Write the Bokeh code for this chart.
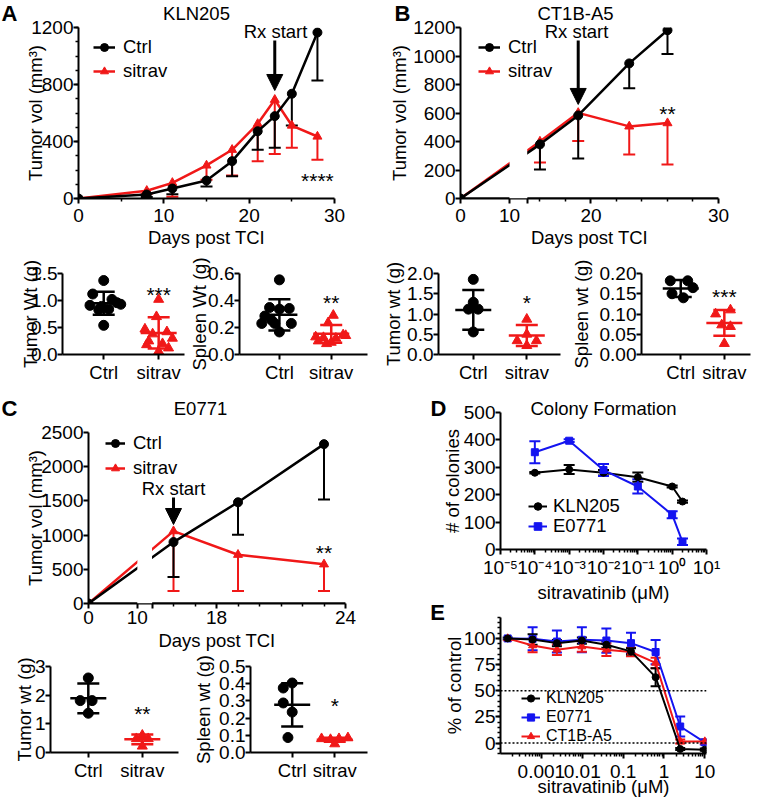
import json
from bokeh.plotting import figure
from bokeh.layouts import row, column
from bokeh.models import (ColumnDataSource, Whisker, TeeHead, Legend, LegendItem,
                          Label, Arrow, NormalHead, FixedTicker, LinearAxis,
                          BoxAnnotation, Span, CustomJSTickFormatter,
                          PrintfTickFormatter, GridBox)
from bokeh.embed import file_html
from bokeh.resources import INLINE

# ============================ DATA ============================
# A: KLN205 tumour growth (mean and lower SD)
a_days = [0, 8, 11, 15, 18, 21, 23, 25, 28]
a_ctrl = [0, 28, 70, 126, 262, 472, 578, 735, 1165]
a_ctrl_err = [0, 18, 40, 42, 105, 130, 222, 223, 337]
a_sitrav = [0, 54, 110, 232, 342, 524, 693, 512, 435]
a_sitrav_err = [0, 20, 98, 100, 181, 262, 380, 156, 163]
a_rx_day = 23

# B: CT1B-A5 tumour growth
b_days = [0, 16, 19, 23, 26]
b_ctrl = [0, 380, 583, 948, 1181]
b_ctrl_err = [0, 177, 303, 174, 167]
b_sitrav = [0, 400, 601, 506, 529]
b_sitrav_err = [0, 148, 198, 198, 291]
b_rx_day = 19

# C: E0771 tumour growth
c_days = [0, 16, 19, 23]
c_ctrl = [0, 898, 1480, 2330]
c_ctrl_err = [0, 510, 475, 811]
c_sitrav = [0, 1058, 713, 573]
c_sitrav_err = [0, 874, 529, 389]
c_rx_day = 16

groups = ["Ctrl", "sitrav"]

# end-point weights: values, horizontal scatter offsets (category units), (mean, SD)
a_tum_ctrl = [1.37, 1.12, 1.02, 0.91, 0.89, 0.96, 0.93, 0.83, 0.84, 0.54]
a_tum_ctrl_dx = [0, -0.2, 0.15, -0.25, -0.04, 0.24, 0.31, -0.09, 0.09, 0]
a_tum_sit = [1.02, 0.70, 0.47, 0.42, 0.38, 0.30, 0.25, 0.20, 0.18, 0.12, 0.06]
a_tum_sit_dx = [0, -0.04, -0.25, 0.15, -0.11, 0.25, -0.18, 0.07, -0.22, 0.18, 0]
a_tum_stats = [(0.947, 0.213), (0.40, 0.29)]

a_spl_ctrl = [0.553, 0.348, 0.336, 0.341, 0.285, 0.254, 0.23, 0.23, 0.23, 0.167]
a_spl_ctrl_dx = [0, -0.19, 0, 0.19, -0.28, -0.15, -0.34, -0.09, 0.23, 0]
a_spl_sit = [0.29, 0.235, 0.145, 0.13, 0.125, 0.12, 0.10, 0.09, 0.14, 0.08]
a_spl_sit_dx = [0.04, -0.06, 0.23, -0.3, -0.15, 0.09, -0.25, 0, 0.28, -0.09]
a_spl_stats = [(0.294, 0.116), (0.153, 0.066)]

b_tum_ctrl = [1.855, 1.29, 1.12, 1.12, 0.557]
b_tum_ctrl_dx = [0, 0, -0.09, 0.09, 0]
b_tum_sit = [0.87, 0.34, 0.34, 0.22, 0.50]
b_tum_sit_dx = [0, -0.18, 0.18, 0, 0]
b_tum_stats = [(1.10, 0.49), (0.47, 0.26)]

b_spl_ctrl = [0.182, 0.182, 0.165, 0.15, 0.14]
b_spl_ctrl_dx = [-0.24, 0.16, 0.28, -0.2, 0.06]
b_spl_sit = [0.100, 0.11, 0.073, 0.069, 0.027]
b_spl_sit_dx = [-0.2, 0.14, -0.06, 0.14, 0]
b_spl_stats = [(0.163, 0.021), (0.078, 0.032)]

c_tum_ctrl = [2.6, 1.81, 1.81, 1.37]
c_tum_ctrl_dx = [0, -0.15, 0.07, 0]
c_tum_sit = [0.6, 0.48, 0.48, 0.22]
c_tum_sit_dx = [0, -0.11, 0.11, 0]
c_tum_stats = [(1.89, 0.52), (0.46, 0.17)]

c_spl_ctrl = [0.404, 0.375, 0.288, 0.235, 0.087]
c_spl_ctrl_dx = [0, -0.21, -0.21, 0, -0.1]
c_spl_sit = [0.08, 0.075, 0.08, 0.085, 0.05]
c_spl_sit_dx = [-0.31, -0.1, 0.1, 0.31, 0]
c_spl_stats = [(0.277, 0.126), (0.074, 0.012)]

# D: colony formation (mean +/- SD)
d_conc = [1e-4, 1e-3, 1e-2, 1e-1, 1, 2]
d_kln = [280, 292, 280, 264, 230, 175]
d_kln_err = [3, 16, 10, 17, 4, 4]
d_e0771 = [355, 397, 290, 230, 127, 28]
d_e0771_err = [40, 5, 22, 26, 13, 12]

# E: viability, % of control (mean +/- SD)
e_conc = [0.00015, 0.00061, 0.0024, 0.0098, 0.039, 0.156, 0.625, 2.5, 10]
e_kln = [100, 99, 95.5, 98, 94, 87.6, 63, -5.7, -6.3]
e_kln_err = [1, 5, 3, 3, 3, 3, 8.6, 1, 1]
e_e0771 = [100, 99.6, 97, 98.7, 98, 95.5, 87, 15.8, 0.7]
e_e0771_err = [0, 11, 10.5, 12, 11.6, 10, 11.6, 9.5, 2]
e_ct1b = [100, 93.3, 89.2, 92.3, 89.2, 87, 76.6, 1.5, 1.5]
e_ct1b_err = [0, 6.5, 5, 5, 6, 4, 5, 2, 2]

# ============================ STYLE / LAYOUT ============================
FONT = "Liberation Sans"
FS = "18.5px"
TICK_FS = "19px"
STAR_FS = "21px"
LETTER_FS = "22px"
RED = "#f01818"
BLUE = "#1414f0"
PAGE_W, PAGE_H = 758, 799


def make_fig(box, frame, **kw):
    bx0, by0, bx1, by1 = box
    fl, ft, fr, fb = frame
    p = figure(width=bx1 - bx0, height=by1 - by0,
               min_border_left=fl - bx0, min_border_right=bx1 - fr,
               min_border_top=ft - by0, min_border_bottom=by1 - fb,
               toolbar_location=None, output_backend="svg", **kw)
    p.outline_line_color = None
    p.grid.visible = False
    p.background_fill_color = "white"
    p.border_fill_color = "white"
    return p


def style_axes(p, ystand=0, xlabstand=0, xstand=0):
    for ax in p.axis:
        ax.axis_line_width = 2
        ax.axis_line_color = "black"
        ax.major_tick_line_width = 2
        ax.minor_tick_line_width = 1.5
        ax.major_tick_line_color = "black"
        ax.minor_tick_line_color = "black"
        ax.major_tick_in = 0
        ax.minor_tick_in = 0
        ax.major_tick_out = 5
        ax.minor_tick_out = 3
        ax.major_label_text_font = FONT
        ax.major_label_text_font_size = TICK_FS
        ax.major_label_text_color = "black"
        ax.axis_label_text_font = FONT
        ax.axis_label_text_font_size = FS
        ax.axis_label_text_font_style = "normal"
        ax.axis_label_text_color = "black"
    for ax in p.yaxis:
        ax.major_label_standoff = 0
        ax.axis_label_standoff = ystand
    for ax in p.xaxis:
        ax.major_label_standoff = xlabstand
        ax.axis_label_standoff = xstand


def text(p, x, y, s, size=FS, bold=False, align="center"):
    p.add_layout(Label(x=x, y=y, text=s, text_font=FONT, text_font_size=size,
                       text_font_style="bold" if bold else "normal",
                       text_align=align, text_baseline="middle", text_color="black"))


def arrow(p, x, y0, y1):
    p.add_layout(Arrow(end=NormalHead(size=16, fill_color="black", line_color="black", line_width=1),
                       x_start=x, y_start=y0, x_end=x, y_end=y1,
                       line_color="black", line_width=3))


def series(p, x, y, err, color, marker, size, lw=2.5, cap=12, sym=False):
    src = ColumnDataSource(dict(x=list(x), y=list(y)))
    keep = [i for i, e in enumerate(err) if e > 0]
    wsrc = ColumnDataSource(dict(
        x=[x[i] for i in keep],
        lo=[y[i] - err[i] for i in keep],
        hi=[(y[i] + err[i]) if sym else y[i] for i in keep]))
    p.add_layout(Whisker(source=wsrc, base="x", lower="lo", upper="hi",
                         line_color=color, line_width=2,
                         lower_head=TeeHead(size=cap, line_color=color, line_width=2),
                         upper_head=TeeHead(size=cap, line_color=color, line_width=2) if sym else None))
    ln = p.line("x", "y", source=src, line_color=color, line_width=lw)
    sc = p.scatter("x", "y", source=src, marker=marker, size=size,
                   fill_color=color, line_color=color)
    return [ln, sc]


def add_legend(p, frame, entries, gw, standoff, font=FS, gh=20):
    fl, ft, fr, fb = frame
    for label, rends, gx, gy in entries:
        leg = Legend(items=[LegendItem(label=label, renderers=rends)],
                     location=(gx - fl, fb - gy - gh // 2),
                     glyph_width=gw, glyph_height=gh, label_height=gh,
                     label_standoff=standoff, padding=0, margin=0, spacing=0,
                     border_line_color=None, background_fill_alpha=0,
                     label_text_font=FONT, label_text_font_size=font,
                     label_text_color="black")
        p.add_layout(leg)


def tick_code(mapping):
    return ("const m = %s; const s = m[String(tick)]; return s === undefined ? '' : s;"
            % json.dumps(mapping))


def broken_axes(p, umap, seg1, seg2, major, labels, minor, label):
    mapping = {str(umap(d)): l for d, l in zip(major, labels)}
    main = LinearAxis(ticker=FixedTicker(ticks=[umap(d) for d in major],
                                         minor_ticks=[umap(d) for d in minor]),
                      formatter=CustomJSTickFormatter(code=tick_code(mapping)),
                      axis_label=label)
    p.add_layout(main, "below")
    segs = []
    for lo, hi in (seg1, seg2):
        ax = LinearAxis(bounds=(umap(lo), umap(hi)), fixed_location=0,
                        ticker=FixedTicker(ticks=[]), axis_label=None)
        p.add_layout(ax, "below")
        segs.append(ax)
    return main, segs


def flatten_segs(segs):
    for ax in segs:
        ax.major_tick_out = 0
        ax.minor_tick_out = 0
        ax.major_label_standoff = 0
        ax.axis_label_standoff = 0


# ----------------------------- A top -----------------------------
A_BOX, A_FR = (0, 0, 360, 252), (78, 27, 334, 198)
pa = make_fig(A_BOX, A_FR, x_range=(0, 30), y_range=(0, 1200))
pa.xaxis.ticker = FixedTicker(ticks=[0, 10, 20, 30], minor_ticks=[5, 15, 25])
pa.yaxis.ticker = FixedTicker(ticks=[0, 400, 800, 1200], minor_ticks=[100 * i for i in range(13)])
style_axes(pa, ystand=-18, xlabstand=5, xstand=2)
pa.xaxis.axis_label = "Days post TCI"
pa.yaxis.axis_label = "Tumor vol (mm³)"
ra_s = series(pa, a_days, a_sitrav, a_sitrav_err, RED, "triangle", 9)
ra_c = series(pa, a_days, a_ctrl, a_ctrl_err, "black", "circle", 9)
add_legend(pa, A_FR, [("Ctrl", ra_c, 93, 48), ("sitrav", ra_s, 93, 72)], 22, 8)
arrow(pa, a_rx_day, 1109, 758)
text(pa, 28, 126, "****", size=STAR_FS)


# ----------------------------- B top -----------------------------
def bu(d):
    return d * 5 if d <= 10 else 68 + (d - 15) * 13


B_BOX, B_FR = (360, 0, 758, 252), (460, 27, 718, 198)
pb = make_fig(B_BOX, B_FR, x_range=(0, 263), y_range=(0, 1200), x_axis_location=None)
pb.yaxis.ticker = FixedTicker(ticks=[0, 200, 400, 600, 800, 1000, 1200])
b_main, b_segs = broken_axes(pb, bu, (0, 10), (15, 30), [0, 10, 15, 20, 30],
                             ["0", "10", "", "20", "30"], [16, 18, 22, 24, 26, 28], "Days post TCI")
style_axes(pb, ystand=0, xlabstand=5, xstand=2)
flatten_segs(b_segs)
pb.yaxis.axis_label = "Tumor vol (mm³)"
bx = [bu(d) for d in b_days]
rb_s = series(pb, bx, b_sitrav, b_sitrav_err, RED, "triangle", 9)
rb_c = series(pb, bx, b_ctrl, b_ctrl_err, "black", "circle", 9)
pb.add_layout(BoxAnnotation(left=bu(10), right=bu(15), fill_color="white", fill_alpha=1.0,
                            line_color=None, level="annotation"))
add_legend(pb, B_FR, [("Ctrl", rb_c, 478, 48), ("sitrav", rb_s, 478, 72)], 22, 8)
arrow(pb, bu(b_rx_day), 1109, 660)
text(pb, bu(26), 597, "**", size=STAR_FS)


# ----------------------------- dot panels -----------------------------
def dot_panel(box, frame, xr, yr, yticks, fmt, ylabel, ystand,
              c_vals, c_dx, s_vals, s_dx, stats, star, star_y):
    p = make_fig(box, frame, x_range=xr, y_range=yr)
    p.xaxis.ticker = FixedTicker(ticks=[1, 2])
    p.xaxis.formatter = CustomJSTickFormatter(
        code="const g = %s; return g[Math.round(tick) - 1];" % json.dumps(groups))
    p.yaxis.ticker = FixedTicker(ticks=yticks)
    p.yaxis.formatter = PrintfTickFormatter(format=fmt)
    style_axes(p, ystand=ystand, xlabstand=2)
    p.xaxis.major_label_text_font_size = FS
    p.yaxis.axis_label = ylabel
    specs = [(c_vals, c_dx, "black", "circle"), (s_vals, s_dx, RED, "triangle")]
    for k, (vals, dx, color, marker) in enumerate(specs):
        cx = k + 1
        p.scatter([cx + d for d in dx], vals, marker=marker, size=10,
                  fill_color=color, line_color=color)
        mean, sd = stats[k]
        wsrc = ColumnDataSource(dict(x=[cx], lo=[mean - sd], hi=[mean + sd]))
        p.add_layout(Whisker(source=wsrc, base="x", lower="lo", upper="hi",
                             line_color=color, line_width=2.5, level="annotation",
                             lower_head=TeeHead(size=22, line_color=color, line_width=2.5),
                             upper_head=TeeHead(size=22, line_color=color, line_width=2.5)))
        p.scatter([cx], [mean], marker="dash", size=36, line_color=color, line_width=2.5)
    text(p, 2, star_y, star, size=STAR_FS)
    return p


p_at = dot_panel((0, 252, 186, 385), (62, 273, 184, 358), (0.25, 2.47), (0, 1.5),
                 [0, 0.5, 1.0, 1.5], "%.1f", "Tumor Wt (g)", -13,
                 a_tum_ctrl, a_tum_ctrl_dx, a_tum_sit, a_tum_sit_dx, a_tum_stats, "***", 1.11)
p_as = dot_panel((186, 252, 380, 385), (236, 273, 367, 358), (0.23, 2.7), (0, 0.6),
                 [0, 0.2, 0.4, 0.6], "%.1f", "Spleen Wt (g)", -5,
                 a_spl_ctrl, a_spl_ctrl_dx, a_spl_sit, a_spl_sit_dx, a_spl_stats, "**", 0.386)
p_bt = dot_panel((380, 252, 567, 385), (430, 273, 560, 358), (0.35, 2.63), (0, 2.0),
                 [0, 0.5, 1.0, 1.5, 2.0], "%.1f", "Tumor wt (g)", 0,
                 b_tum_ctrl, b_tum_ctrl_dx, b_tum_sit, b_tum_sit_dx, b_tum_stats, "*", 1.29)
p_bs = dot_panel((567, 252, 758, 385), (625, 273, 750, 358), (0.1, 2.6), (0, 0.2),
                 [0, 0.05, 0.10, 0.15, 0.20], "%.2f", "Spleen wt (g)", 5,
                 b_spl_ctrl, b_spl_ctrl_dx, b_spl_sit, b_spl_sit_dx, b_spl_stats, "***", 0.143)
p_ct = dot_panel((0, 655, 190, 799), (50, 666, 178, 752), (0.3, 2.67), (0, 3),
                 [0, 1, 2, 3], "%.0f", "Tumor wt (g)", -3,
                 c_tum_ctrl, c_tum_ctrl_dx, c_tum_sit, c_tum_sit_dx, c_tum_stats, "**", 1.36)
p_cs = dot_panel((190, 655, 380, 799), (235, 666, 367, 752), (0.02, 2.77), (0, 0.5),
                 [0, 0.1, 0.2, 0.3, 0.4, 0.5], "%.1f", "Spleen wt (g)", 2,
                 c_spl_ctrl, c_spl_ctrl_dx, c_spl_sit, c_spl_sit_dx, c_spl_stats, "*", 0.273)


# ----------------------------- C top -----------------------------
def cu(d):
    return d * 5 if d <= 10 else 65 + (d - 15) * 22


C_BOX, C_FR = (0, 385, 380, 655), (88, 432, 345, 603)
pc = make_fig(C_BOX, C_FR, x_range=(0, 263), y_range=(0, 2500), x_axis_location=None)
pc.yaxis.ticker = FixedTicker(ticks=[0, 500, 1000, 1500, 2000, 2500])
c_main, c_segs = broken_axes(pc, cu, (0, 10), (15, 24), [0, 10, 15, 18, 24],
                             ["0", "10", "", "18", "24"], [16, 17, 19, 20, 21, 22, 23], "Days post TCI")
style_axes(pc, ystand=-8, xlabstand=2, xstand=3)
flatten_segs(c_segs)
pc.yaxis.axis_label = "Tumor vol (mm³)"
cx_ = [cu(d) for d in c_days]
rc_s = series(pc, cx_, c_sitrav, c_sitrav_err, RED, "triangle", 9)
rc_c = series(pc, cx_, c_ctrl, c_ctrl_err, "black", "circle", 9)
pc.add_layout(BoxAnnotation(left=cu(10), right=cu(15), fill_color="white", fill_alpha=1.0,
                            line_color=None, level="annotation"))
add_legend(pc, C_FR, [("Ctrl", rc_c, 105, 444), ("sitrav", rc_s, 105, 469)], 20, 8)
text(pc, cu(c_rx_day), 1681, "Rx start")
arrow(pc, cu(c_rx_day), 1550, 1155)
text(pc, cu(23), 746, "**", size=STAR_FS)

# ----------------------------- D -----------------------------
SUP_CODE = """
const sup = {"-": "\u207b", "0": "\u2070", "1": "\u00b9", "2": "\u00b2", "3": "\u00b3",
             "4": "\u2074", "5": "\u2075", "6": "\u2076", "7": "\u2077", "8": "\u2078", "9": "\u2079"};
const e = Math.round(Math.log10(tick));
return "10" + String(e).split("").map(c => sup[c]).join("");
"""
D_BOX, D_FR = (380, 385, 758, 605), (500, 412, 706, 549)
pd_ = make_fig(D_BOX, D_FR, x_axis_type="log", x_range=(1e-5, 10), y_range=(0, 500))
pd_.xaxis.ticker = FixedTicker(ticks=[10.0 ** e for e in range(-5, 2)],
                               minor_ticks=[k * 10.0 ** e for e in range(-5, 1) for k in range(2, 10)])
pd_.xaxis.formatter = CustomJSTickFormatter(code=SUP_CODE)
pd_.yaxis.ticker = FixedTicker(ticks=[0, 100, 200, 300, 400, 500])
style_axes(pd_, ystand=-2, xlabstand=2, xstand=1)
pd_.xaxis.axis_label = "sitravatinib (μM)"
pd_.yaxis.axis_label = "# of colonies"
rd_k = series(pd_, d_conc, d_kln, d_kln_err, "black", "circle", 7, lw=2, cap=11, sym=True)
rd_e = series(pd_, d_conc, d_e0771, d_e0771_err, BLUE, "square", 7, lw=2, cap=11, sym=True)
add_legend(pd_, D_FR, [("KLN205", rd_k, 528, 507), ("E0771", rd_e, 528, 527)], 19, 6)

# ----------------------------- E -----------------------------
E_BOX, E_FR = (380, 605, 758, 799), (497, 617, 707, 754)
pe = make_fig(E_BOX, E_FR, x_axis_type="log", x_range=(1e-4, 11), y_range=(-10, 120))
pe.xaxis.ticker = FixedTicker(ticks=[0.001, 0.01, 0.1, 1, 10],
                              minor_ticks=[k * 10.0 ** e for e in range(-4, 1) for k in range(2, 10)])
pe.xaxis.formatter = CustomJSTickFormatter(code="return tick.toString();")
pe.yaxis.ticker = FixedTicker(ticks=[0, 25, 50, 75, 100], minor_ticks=list(range(-10, 121, 5)))
style_axes(pe, ystand=-4, xlabstand=6, xstand=-5)
pe.xaxis.axis_label = "sitravatinib (μM)"
pe.yaxis.axis_label = "% of control"
for lvl in (50, 0):
    pe.add_layout(Span(location=lvl, dimension="width", line_color="black",
                       line_width=1.5, line_dash="2 2"))
re_e = series(pe, e_conc, e_e0771, e_e0771_err, BLUE, "square", 7, lw=2, cap=10, sym=True)
re_c = series(pe, e_conc, e_ct1b, e_ct1b_err, RED, "triangle", 8, lw=2, cap=10, sym=True)
re_k = series(pe, e_conc, e_kln, e_kln_err, "black", "circle", 7, lw=2, cap=10, sym=True)
add_legend(pe, E_FR, [("KLN205", re_k, 518, 699), ("E0771", re_e, 518, 718),
                      ("CT1B-A5", re_c, 518, 737)], 19, 6, font="16px", gh=18)

# ----------------------------- overlay: panel letters and titles -----------------------------
ov = figure(width=PAGE_W, height=PAGE_H, x_range=(0, PAGE_W), y_range=(PAGE_H, 0),
            min_border=0, toolbar_location=None, output_backend="svg",
            x_axis_location=None, y_axis_location=None)
ov.outline_line_color = None
ov.background_fill_color = None
ov.border_fill_color = None
ov.grid.visible = False
for s, x, y in [("A", 9, 13), ("B", 402, 13), ("C", 9, 408), ("D", 438, 408), ("E", 437, 612)]:
    text(ov, x, y, s, size=LETTER_FS, bold=True)
for s, x, y in [("KLN205", 196, 13), ("CT1B-A5", 575, 13), ("E0771", 200, 408),
                ("Colony Formation", 603, 408), ("Rx start", 275, 31), ("Rx start", 576, 31)]:
    text(ov, x, y, s)

# ----------------------------- page -----------------------------
main = column(
    row(pa, pb),
    row(p_at, p_as, p_bt, p_bs),
    row(column(pc, row(p_ct, p_cs)), column(pd_, pe)),
)
page = GridBox(children=[(main, 0, 0), (ov, 0, 0)])
open("out.html", "w").write(file_html(page, INLINE, title="Sitravatinib figure"))
